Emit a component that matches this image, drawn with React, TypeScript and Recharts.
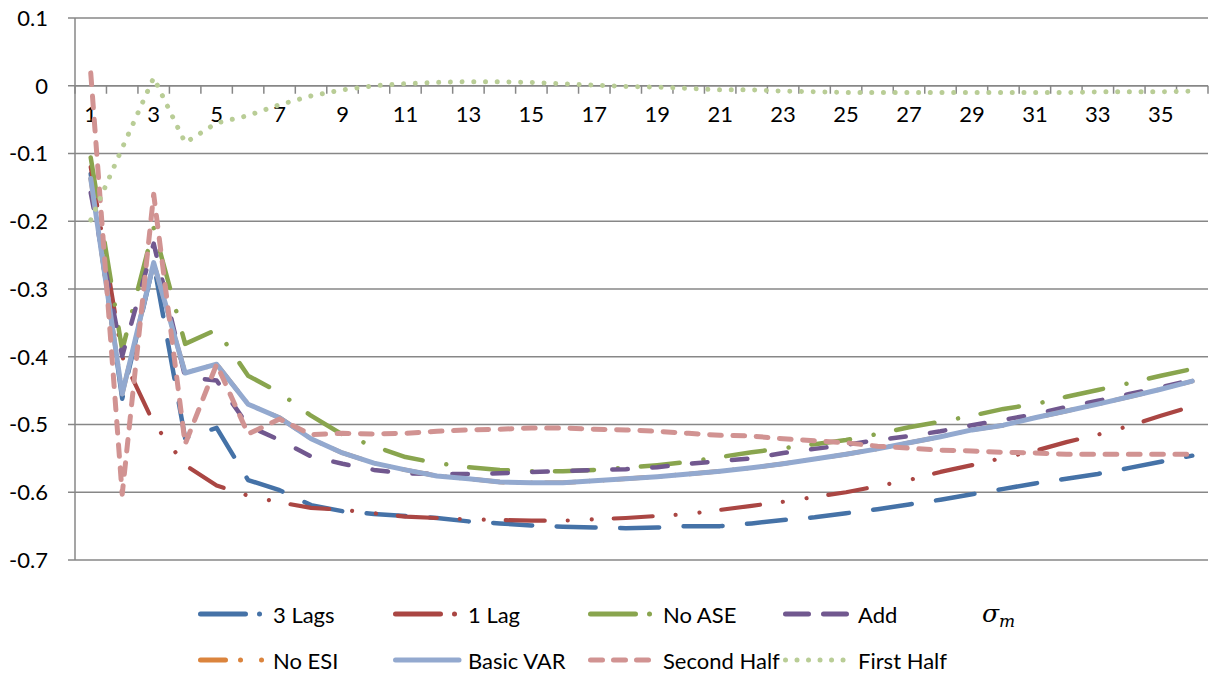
import React from 'react';
import { LineChart, Line, XAxis, YAxis, CartesianGrid, ReferenceLine, Legend } from 'recharts';

const categories = [1, 2, 3, 4, 5, 6, 7, 8, 9, 10, 11, 12, 13, 14, 15, 16, 17, 18, 19, 20, 21, 22, 23, 24, 25, 26, 27, 28, 29, 30, 31, 32, 33, 34, 35, 36];
const xTickLabels = [1, 3, 5, 7, 9, 11, 13, 15, 17, 19, 21, 23, 25, 27, 29, 31, 33, 35];
const yTicks = [0.1, 0, -0.1, -0.2, -0.3, -0.4, -0.5, -0.6, -0.7];

const threeLags = [-0.13, -0.462, -0.262, -0.52, -0.505, -0.582, -0.597, -0.619, -0.628, -0.632, -0.635, -0.638, -0.643, -0.646, -0.649, -0.651, -0.652, -0.653, -0.652, -0.65, -0.65, -0.646, -0.641, -0.637, -0.631, -0.625, -0.618, -0.611, -0.603, -0.595, -0.587, -0.58, -0.573, -0.564, -0.555, -0.546];
const oneLag = [-0.12, -0.4, -0.498, -0.56, -0.59, -0.605, -0.615, -0.623, -0.626, -0.631, -0.636, -0.638, -0.64, -0.641, -0.642, -0.642, -0.64, -0.638, -0.635, -0.632, -0.626, -0.62, -0.614, -0.607, -0.6, -0.591, -0.582, -0.57, -0.56, -0.549, -0.539, -0.526, -0.515, -0.502, -0.487, -0.473];
const noASE = [-0.106, -0.39, -0.21, -0.381, -0.36, -0.428, -0.453, -0.487, -0.515, -0.532, -0.548, -0.557, -0.563, -0.567, -0.569, -0.569, -0.567, -0.564, -0.56, -0.555, -0.548, -0.541, -0.535, -0.529, -0.523, -0.514, -0.504, -0.496, -0.487, -0.477, -0.47, -0.459, -0.449, -0.439, -0.428, -0.418];
const addSigma = [-0.158, -0.399, -0.233, -0.43, -0.435, -0.502, -0.523, -0.547, -0.558, -0.567, -0.572, -0.573, -0.573, -0.572, -0.57, -0.569, -0.567, -0.566, -0.563, -0.558, -0.554, -0.55, -0.542, -0.536, -0.53, -0.523, -0.517, -0.51, -0.501, -0.493, -0.485, -0.474, -0.465, -0.455, -0.445, -0.434];
const noESI = [-0.137, -0.455, -0.261, -0.424, -0.411, -0.47, -0.49, -0.521, -0.542, -0.557, -0.567, -0.576, -0.58, -0.585, -0.586, -0.586, -0.583, -0.58, -0.577, -0.573, -0.569, -0.564, -0.558, -0.551, -0.544, -0.536, -0.527, -0.518, -0.508, -0.501, -0.49, -0.48, -0.47, -0.459, -0.448, -0.436];
const basicVAR = [-0.137, -0.455, -0.261, -0.424, -0.411, -0.47, -0.49, -0.521, -0.542, -0.557, -0.567, -0.576, -0.58, -0.585, -0.586, -0.586, -0.583, -0.58, -0.577, -0.573, -0.569, -0.564, -0.558, -0.551, -0.544, -0.536, -0.527, -0.518, -0.508, -0.501, -0.49, -0.48, -0.47, -0.459, -0.448, -0.436];
const secondHalf = [0.019, -0.603, -0.16, -0.529, -0.411, -0.514, -0.492, -0.515, -0.513, -0.514, -0.513, -0.51, -0.508, -0.507, -0.505, -0.505, -0.507, -0.508, -0.51, -0.513, -0.516, -0.517, -0.521, -0.524, -0.527, -0.532, -0.535, -0.538, -0.539, -0.541, -0.542, -0.544, -0.544, -0.544, -0.544, -0.544];
const firstHalf = [-0.198, -0.092, 0.012, -0.084, -0.055, -0.044, -0.028, -0.015, -0.006, 0.0, 0.003, 0.005, 0.006, 0.006, 0.005, 0.003, 0.001, -0.001, -0.002, -0.004, -0.006, -0.006, -0.008, -0.009, -0.01, -0.01, -0.01, -0.01, -0.01, -0.01, -0.01, -0.01, -0.009, -0.009, -0.009, -0.008];

const seriesNames = ['3 Lags', '1 Lag', 'No ASE', 'Add', 'No ESI', 'Basic VAR', 'Second Half', 'First Half'];
const seriesValues = [threeLags, oneLag, noASE, addSigma, noESI, basicVAR, secondHalf, firstHalf];
const seriesKeys = ['threeLags', 'oneLag', 'noASE', 'addSigma', 'noESI', 'basicVAR', 'secondHalf', 'firstHalf'];

const styles = [
  { color: '#4572A7', width: 4.5, dash: '39 24.5', legendDash: '45 14 0.01 200' },
  { color: '#AA4643', width: 4.2, dash: '39 23 0.01 24 0.01 22', legendDash: '45 14 0.01 200' },
  { color: '#89A54E', width: 4.5, dash: '39 24 0.01 23', legendDash: '45 14 0.01 200' },
  { color: '#71588F', width: 4.5, dash: '15.5 24.5', legendDash: '23 15' },
  { color: '#DB843D', width: 4.5, dash: '30 14 0.01 14 0.01 14', legendDash: '25 15 0.01 21 0.01 200' },
  { color: '#93A9CF', width: 5, dash: undefined, legendDash: undefined },
  { color: '#D19392', width: 5, dash: '11.7 11.6', legendDash: '12 11' },
  { color: '#B9CD96', width: 5, dash: '0.01 11.7', legendDash: '0.01 11.5' },
];

const data = categories.map((c, i) => {
  const row: any = { x: c };
  seriesKeys.forEach((k, j) => {
    row[k] = seriesValues[j][i];
  });
  return row;
});

const W = 1213;
const H = 675;
const margin = { top: 18, right: 5, bottom: 115, left: 0 };
const yAxisWidth = 75;
const plotWidth = W - margin.left - margin.right - yAxisWidth;
const pad = plotWidth / categories.length / 2;
const FONT = 'Lato, "Noto Sans", sans-serif';
const GRID = '#878787';

const ZeroAxis = (props: any) => {
  const vb = props.viewBox || {};
  const x0 = vb.x;
  const y0 = vb.y;
  const width = vb.width;
  const step = width / categories.length;
  const ticks = [];
  for (let k = 0; k <= categories.length; k++) {
    ticks.push(
      <line key={'t' + k} x1={x0 + k * step} x2={x0 + k * step} y1={y0} y2={y0 + 8} stroke={GRID} strokeWidth={1.5} />
    );
  }
  const labels = xTickLabels.map((v) => {
    const idx = categories.indexOf(v);
    return (
      <text key={'l' + v} x={x0 + (idx + 0.5) * step} y={y0 + 36} textAnchor="middle" fontFamily={FONT} fontSize={22} fill="#000">
        {v}
      </text>
    );
  });
  return (
    <g>
      {ticks}
      {labels}
    </g>
  );
};

const legendX0 = 198;
const legendColStep = 195;
const legendRowStep = 46;

const LegendContent = () => (
  <svg width={W} height={90} style={{ display: 'block' }}>
    {seriesNames.map((name, i) => {
      const col = i % 4;
      const row = Math.floor(i / 4);
      const x = legendX0 + col * legendColStep;
      const y = 24 + row * legendRowStep;
      const s = styles[i];
      return (
        <g key={name}>
          <line
            x1={x + 2.5}
            x2={x + 66}
            y1={y}
            y2={y}
            stroke={s.color}
            strokeWidth={5}
            strokeLinecap="round"
            strokeDasharray={s.legendDash}
          />
          <text x={x + 75} y={y} dominantBaseline="central" fontFamily={FONT} fontSize={22} fill="#000">
            {name}
          </text>
        </g>
      );
    })}
    <text x={982} y={32} fontFamily='"DejaVu Serif", serif' fontStyle="italic" fontSize={25} fill="#000">
      σ<tspan fontSize={17} dy={5}>m</tspan>
    </text>
  </svg>
);

export default function App() {
  return (
    <div style={{ position: 'absolute', left: 0, top: 0, width: W, height: H, background: '#fff' }}>
      <LineChart width={W} height={H} data={data} margin={margin}>
        <CartesianGrid vertical={false} stroke={GRID} strokeWidth={1.5} />
        <XAxis dataKey="x" type="category" scale="point" padding={{ left: pad, right: pad }} hide />
        <YAxis
          type="number"
          domain={[-0.7, 0.1]}
          ticks={yTicks}
          interval={0}
          width={yAxisWidth}
          tickFormatter={(v: number) => (v === 0 ? '0' : v.toFixed(1))}
          tick={{ fill: '#000', fontSize: 22, fontFamily: FONT }}
          tickSize={7}
          tickMargin={20}
          axisLine={{ stroke: GRID, strokeWidth: 1.5 }}
          tickLine={{ stroke: GRID, strokeWidth: 1.5 }}
        />
        <ReferenceLine y={0} stroke={GRID} strokeWidth={1.5} label={<ZeroAxis />} />
        {seriesKeys.map((k, i) => (
          <Line
            key={k}
            dataKey={k}
            name={seriesNames[i]}
            type="linear"
            stroke={styles[i].color}
            strokeWidth={styles[i].width}
            strokeDasharray={styles[i].dash}
            strokeLinecap="round"
            strokeLinejoin="round"
            dot={false}
            activeDot={false}
            isAnimationActive={false}
          />
        ))}
        <Legend
          layout="horizontal"
          verticalAlign="middle"
          align="center"
          content={<LegendContent />}
          wrapperStyle={{ position: 'absolute', top: 590, left: 0, width: W, height: 90 }}
        />
      </LineChart>
    </div>
  );
}
